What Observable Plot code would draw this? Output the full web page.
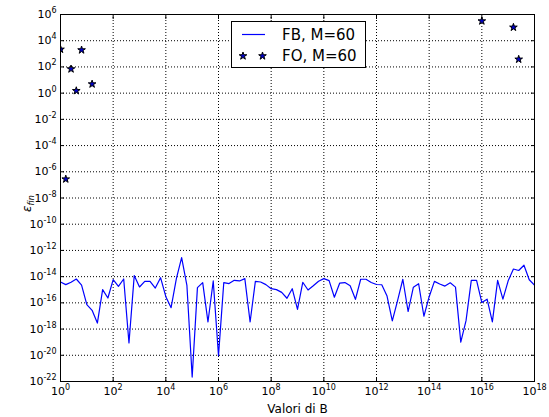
<!DOCTYPE html>
<html>
<head>
<meta charset="utf-8">
<script src="https://cdn.jsdelivr.net/npm/d3@7"></script>
<script src="https://cdn.jsdelivr.net/npm/@observablehq/plot@0.6"></script>
<style>
  html, body { margin: 0; padding: 0; background: white; }
  #wrap { position: relative; width: 549px; height: 417px; font-family: 'DejaVu Sans', sans-serif; }
  #legend { position: absolute; left: 231px; top: 21px; }
</style>
</head>
<body>
<div id="wrap"></div>
<script>
// ---- data ----
// log10(B) sample grid for FB curve
const fbLogB = [0,0.2,0.4,0.6,0.8,1,1.2,1.4,1.6,1.8,2,2.2,2.4,2.6,2.8,3,3.2,3.4,3.6,3.8,4,4.2,4.4,4.6,4.8,5,5.2,5.4,5.6,5.8,6,6.2,6.4,6.6,6.8,7,7.2,7.4,7.6,7.8,8,8.2,8.4,8.6,8.8,9,9.2,9.4,9.6,9.8,10,10.2,10.4,10.6,10.8,11,11.2,11.4,11.6,11.8,12,12.2,12.4,12.6,12.8,13,13.2,13.4,13.6,13.8,14,14.2,14.4,14.6,14.8,15,15.2,15.4,15.6,15.8,16,16.2,16.4,16.6,16.8,17,17.2,17.4,17.6,17.8,18];
// log10(eps_fin) for FB, M=60
const fbLogErr = [-14.41,-14.61,-14.43,-14.18,-14.64,-16.14,-16.57,-17.54,-14.99,-15.63,-14.23,-14.74,-14.18,-19.06,-13.92,-14.79,-14.36,-14.36,-14.87,-14.08,-15.53,-16.37,-14.15,-12.55,-14.66,-21.66,-14.84,-14.46,-17.46,-14.33,-20.03,-14.46,-14.53,-14.28,-14.33,-14.15,-17.46,-14.36,-14.41,-14.61,-14.92,-14.99,-15.2,-15.65,-14.92,-16.5,-14.43,-15.02,-14.7,-14.35,-14.15,-14.3,-15.57,-14.5,-14.45,-14.7,-15.73,-14.2,-14.2,-14.45,-14.6,-14.62,-15.48,-17.38,-15.83,-14.2,-16.66,-14.8,-14.54,-17.02,-15.53,-14.36,-14.56,-14.72,-14.47,-14.8,-19.0,-17.36,-14.28,-14.28,-15.98,-15.72,-17.45,-14.29,-15.72,-14.32,-13.42,-13.53,-13.13,-14.24,-14.65];
// FO, M=60 (only finite / in-range points are shown)
const foLogB = [0, 0.2, 0.4, 0.6, 0.8, 1.2, 16.0, 17.2, 17.4];
const foLogErr = [3.34, -6.56, 1.84, 0.18, 3.29, 0.69, 5.50, 5.02, 2.58];
// tick exponents
const xTickExp = [0,2,4,6,8,10,12,14,16,18];
const yTickExp = [-22,-20,-18,-16,-14,-12,-10,-8,-6,-4,-2,0,2,4,6];
const seriesNames = ["FB, M=60", "FO, M=60"];
const xLabel = ["Valori di B"];
const yLabel = ["ε_fin"];

// ---- build ----
const fb = fbLogB.map((e, i) => ({B: 10 ** e, err: 10 ** fbLogErr[i]}));
const fo = foLogB.map((e, i) => ({B: 10 ** e, err: 10 ** foLogErr[i]}));
const xTicks = xTickExp.map(e => 10 ** e);
const yTicks = yTickExp.map(e => 10 ** e);
const fmt = d => `10^${Math.round(Math.log10(d))}`;
const blank = () => "";
const starR = 2.4;

const chart = Plot.plot({
  width: 549,
  height: 417,
  marginLeft: 60,
  marginRight: 15,
  marginTop: 14,
  marginBottom: 36,
  x: {type: "log", domain: [1, 1e18]},
  y: {type: "log", domain: [1e-22, 1e6]},
  style: {fontFamily: "'DejaVu Sans', sans-serif", fontSize: "11px", background: "white", color: "black", overflow: "visible"},
  marks: [
    Plot.gridX(xTicks, {stroke: "black", strokeOpacity: 1, strokeWidth: 1, strokeDasharray: "1,2"}),
    Plot.gridY(yTicks, {stroke: "black", strokeOpacity: 1, strokeWidth: 1, strokeDasharray: "1,2"}),
    Plot.line(fb, {x: "B", y: "err", stroke: "#0000ff", strokeWidth: 1.2, clip: true}),
    Plot.dot(fo, {x: "B", y: "err", symbol: "star", r: starR, fill: "#0000cc", stroke: "black", strokeWidth: 1, clip: true}),
    Plot.frame({stroke: "black", strokeWidth: 1}),
    // inward ticks on all four sides
    Plot.axisX(xTicks, {anchor: "bottom", tickSize: 4, dy: -4, tickFormat: blank, label: null}),
    Plot.axisX(xTicks, {anchor: "top", tickSize: 4, dy: 4, tickFormat: blank, label: null}),
    Plot.axisY(yTicks, {anchor: "left", tickSize: 4, dx: 4, tickFormat: blank, label: null}),
    Plot.axisY(yTicks, {anchor: "right", tickSize: 4, dx: -4, tickFormat: blank, label: null}),
    // tick labels
    Plot.axisX(xTicks, {anchor: "bottom", tickSize: 0, tickPadding: 6, tickFormat: fmt, label: null}),
    Plot.axisY(yTicks, {anchor: "left", tickSize: 0, tickPadding: 4, tickFormat: fmt, label: null}),
    // axis titles
    Plot.text(xLabel, {frameAnchor: "bottom", dy: 28, lineAnchor: "middle", fontSize: 12}),
    Plot.text(yLabel, {frameAnchor: "left", dx: -33, dy: 14, rotate: -90, lineAnchor: "middle", fontSize: 12})
  ]
});

// superscripts / subscripts as real text
const NS = "http://www.w3.org/2000/svg";
chart.querySelectorAll("text").forEach(t => {
  const s = t.textContent;
  let m = s.match(/^10\^(-?\d+)$/);
  if (m) {
    t.textContent = "10";
    const ts = document.createElementNS(NS, "tspan");
    ts.setAttribute("dy", "-5");
    ts.setAttribute("font-size", "8");
    ts.textContent = m[1];
    t.appendChild(ts);
    return;
  }
  m = s.match(/^(.+)_(.+)$/);
  if (m) {
    t.textContent = "";
    const a = document.createElementNS(NS, "tspan");
    a.setAttribute("font-style", "italic");
    a.textContent = m[1];
    const b = document.createElementNS(NS, "tspan");
    b.setAttribute("font-style", "italic");
    b.setAttribute("font-size", "8");
    b.setAttribute("dy", "3");
    b.textContent = m[2];
    t.appendChild(a);
    t.appendChild(b);
  }
});

const wrap = document.getElementById("wrap");
wrap.appendChild(chart);

// legend
const lg = d3.create("svg").attr("id", "legend").attr("width", 136).attr("height", 48)
  .style("font-family", "'DejaVu Sans', sans-serif");
lg.append("rect").attr("x", 0.5).attr("y", 0.5).attr("width", 134).attr("height", 46)
  .attr("fill", "white").attr("stroke", "black").attr("stroke-width", 1);
lg.append("line").attr("x1", 11).attr("x2", 34).attr("y1", 13.5).attr("y2", 13.5)
  .attr("stroke", "#0000ff").attr("stroke-width", 1.2);
const star = d3.symbol(d3.symbolStar, Math.PI * starR * starR)();
[12, 31.5].forEach(x => lg.append("path").attr("d", star).attr("transform", `translate(${x},35)`)
  .attr("fill", "#0000cc").attr("stroke", "black").attr("stroke-width", 1));
lg.append("text").attr("x", 51).attr("y", 13.5).attr("dy", "0.35em").attr("font-size", 15).text(seriesNames[0]);
lg.append("text").attr("x", 51).attr("y", 35).attr("dy", "0.35em").attr("font-size", 15).text(seriesNames[1]);
wrap.appendChild(lg.node());
</script>
</body>
</html>
